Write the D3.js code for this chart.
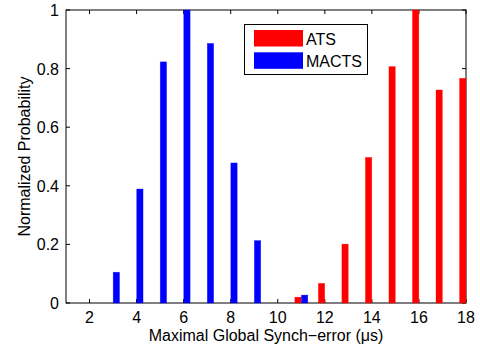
<!DOCTYPE html>
<html>
<head>
<meta charset="utf-8">
<script src="https://cdn.jsdelivr.net/npm/d3@7"></script>
<style>
  body { margin: 0; background: #fff; }
  text { font-family: "Liberation Sans", Arial, sans-serif; fill: #000; }
</style>
</head>
<body>
<svg id="chart" width="480" height="347"></svg>
<script>
// data
const bins = [1, 2, 3, 4, 5, 6, 7, 8, 9, 10, 11, 12, 13, 14, 15, 16, 17, 18];
const atsValues = [0, 0, 0, 0, 0, 0, 0, 0, 0, 0, 0.02, 0.067, 0.201, 0.497, 0.807, 1.0, 0.727, 0.767];
const mactsValues = [0, 0, 0.105, 0.389, 0.823, 1.0, 0.886, 0.478, 0.213, 0, 0.027, 0, 0, 0, 0, 0, 0, 0];
const xTicks = [2, 4, 6, 8, 10, 12, 14, 16, 18];
const yTicks = [0, 0.2, 0.4, 0.6, 0.8, 1];
const seriesNames = ["ATS", "MACTS"];
const seriesColors = ["#ff0000", "#0000ff"];

const svg = d3.select("#chart");
const margin = { left: 66, right: 14, top: 10, bottom: 44 };
const width = 480, height = 347;

const x = d3.scaleLinear().domain([1, 18]).range([margin.left, width - margin.right]);
const y = d3.scaleLinear().domain([0, 1]).range([height - margin.bottom, margin.top]);

const barW = 0.27;
const offsets = [-0.14, 0.14];
const tickLen = 4;

// axis box
svg.append("rect")
  .attr("x", x(1)).attr("y", y(1))
  .attr("width", x(18) - x(1)).attr("height", y(0) - y(1))
  .attr("fill", "none").attr("stroke", "#000").attr("stroke-width", 1);

// ticks (inside, on all four sides)
const tk = svg.append("g").attr("stroke", "#000").attr("stroke-width", 1);
xTicks.forEach(function (t) {
  tk.append("line").attr("x1", x(t)).attr("x2", x(t)).attr("y1", y(0)).attr("y2", y(0) - tickLen);
  tk.append("line").attr("x1", x(t)).attr("x2", x(t)).attr("y1", y(1)).attr("y2", y(1) + tickLen);
});
yTicks.forEach(function (t) {
  tk.append("line").attr("x1", x(1)).attr("x2", x(1) + tickLen).attr("y1", y(t)).attr("y2", y(t));
  tk.append("line").attr("x1", x(18)).attr("x2", x(18) - tickLen).attr("y1", y(t)).attr("y2", y(t));
});

// tick labels
svg.append("g").selectAll("text").data(xTicks).enter().append("text")
  .attr("x", function (d) { return x(d); })
  .attr("y", y(0) + 20)
  .attr("text-anchor", "middle")
  .style("font-size", "16px")
  .text(function (d) { return d; });

svg.append("g").selectAll("text").data(yTicks).enter().append("text")
  .attr("x", x(1) - 7)
  .attr("y", function (d) { return y(d) + 6; })
  .attr("text-anchor", "end")
  .style("font-size", "16px")
  .text(function (d) { return d; });

// bars
[atsValues, mactsValues].forEach(function (vals, s) {
  svg.append("g").selectAll("rect").data(vals).enter().append("rect")
    .attr("x", function (d, i) { return x(bins[i] + offsets[s] - barW / 2); })
    .attr("y", function (d) { return y(d); })
    .attr("width", x(1 + barW) - x(1))
    .attr("height", function (d) { return y(0) - y(d); })
    .attr("fill", seriesColors[s])
    .attr("stroke", seriesColors[s])
    .attr("stroke-opacity", 0.5)
    .attr("stroke-width", 0.6);
});

// axis titles
svg.append("text")
  .attr("x", (x(1) + x(18)) / 2)
  .attr("y", 341)
  .attr("text-anchor", "middle")
  .style("font-size", "16px")
  .text("Maximal Global Synch\u2212error (\u03bcs)");

svg.append("text")
  .attr("transform", "translate(30," + (y(0.5)) + ") rotate(-90)")
  .attr("text-anchor", "middle")
  .style("font-size", "16px")
  .text("Normalized Probability");

// legend
const lg = svg.append("g");
lg.append("rect")
  .attr("x", 244.5).attr("y", 24.5).attr("width", 123).attr("height", 50)
  .attr("fill", "#fff").attr("stroke", "#000").attr("stroke-width", 1);
seriesNames.forEach(function (name, i) {
  lg.append("rect")
    .attr("x", 254).attr("y", 30 + i * 22.3).attr("width", 49).attr("height", 16.5)
    .attr("fill", seriesColors[i]);
  lg.append("text")
    .attr("x", 306).attr("y", 44.5 + i * 22.3)
    .style("font-size", "16px")
    .text(name);
});
</script>
</body>
</html>
